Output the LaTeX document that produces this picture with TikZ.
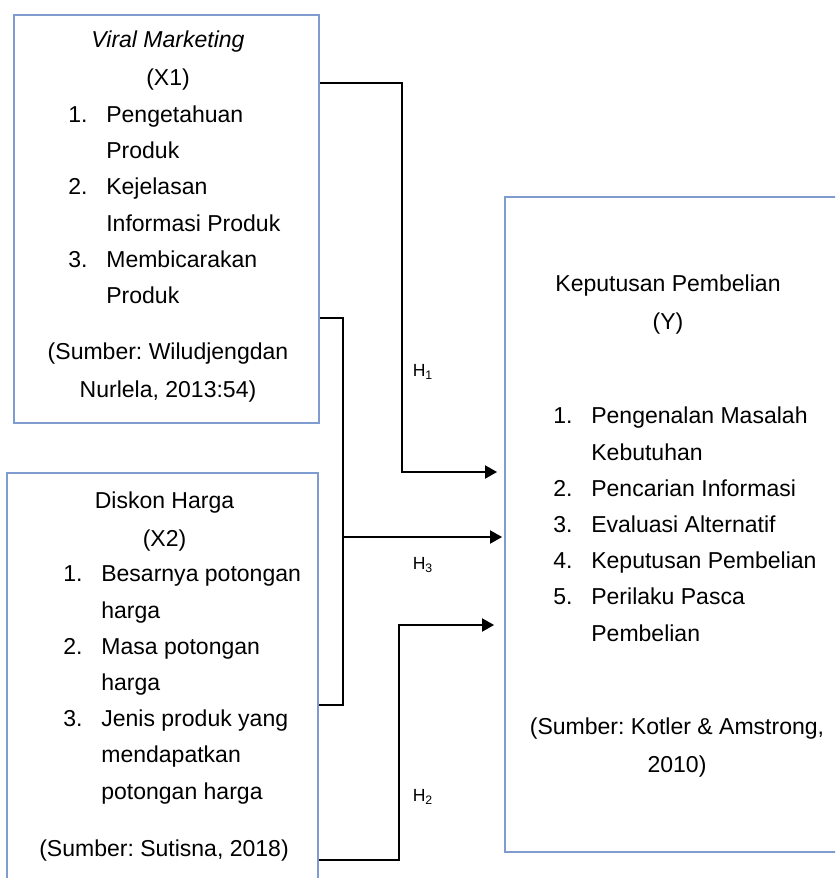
\documentclass[tikz,border=0pt]{standalone}
\usepackage{fontspec}
\setmainfont{Liberation Sans}
\usepackage{tikz}
\usetikzlibrary{arrows.meta, positioning, calc}
\definecolor{boxcol}{RGB}{126,156,208}
\frenchspacing

% list entry with hanging number
\newcommand{\itm}[2]{\makebox[0.76cm][l]{#1}#2}
\newcommand{\cnt}[1]{\hspace*{0.76cm}#1}

\begin{document}
\begin{tikzpicture}[
  x=0.02cm, y=-0.02cm,
  box/.style={draw=boxcol, line width=1.1pt, inner sep=0pt},
  ttl/.style={font=\fontsize{13.1}{21.6}\selectfont, inner sep=0pt,
              align=center, anchor=base},
  lst/.style={font=\fontsize{13.1}{20.6}\selectfont, inner sep=0pt,
              align=left, anchor=base west},
  hlab/.style={font=\fontsize{10}{12}\selectfont, inner sep=0pt},
  flow/.style={-{Triangle[length=0.24cm, width=0.26cm]}, line width=1.1pt},
  link/.style={line width=1.1pt}
]
  \clip (0,0) rectangle (835,878);
  \fill[white] (0,0) rectangle (835,878);

  % boxes
  \node[box, minimum width=6.1cm, minimum height=8.16cm] (x1) at (166.5,219) {};
  \node[box, minimum width=6.22cm, minimum height=8.34cm] (x2) at (162.5,681.5) {};
  \node[box, minimum width=6.8cm, minimum height=13.1cm] (y) at (675,524.5) {};

  % X1 (anchors sit on the last line)
  \node[ttl] (x1t) at (168,85.5) {\textit{Viral Marketing}\\(X1)};
  \node[lst] (x1l) at (68,303.5) {\itm{1.}{Pengetahuan}\\\cnt{Produk}\\
    \itm{2.}{Kejelasan}\\\cnt{Informasi Produk}\\
    \itm{3.}{Membicarakan}\\\cnt{Produk}};
  \node[ttl] (x1s) at (168,397.5) {(Sumber: Wiludjengdan\\Nurlela, 2013:54)};

  % X2
  \node[ttl] (x2t) at (164.5,546) {Diskon Harga\\(X2)};
  \node[lst] (x2l) at (63,799) {\itm{1.}{Besarnya potongan}\\\cnt{harga}\\
    \itm{2.}{Masa potongan}\\\cnt{harga}\\
    \itm{3.}{Jenis produk yang}\\\cnt{mendapatkan}\\\cnt{potongan harga}};
  \node[ttl] (x2s) at (164,856) {(Sumber: Sutisna, 2018)};

  % Y
  \node[ttl] (yt) at (668,329) {Keputusan Pembelian\\(Y)};
  \node[lst] (yl) at (553,641) {\itm{1.}{Pengenalan Masalah}\\\cnt{Kebutuhan}\\
    \itm{2.}{Pencarian Informasi}\\\itm{3.}{Evaluasi Alternatif}\\
    \itm{4.}{Keputusan Pembelian}\\\itm{5.}{Perilaku Pasca}\\\cnt{Pembelian}};
  \node[ttl] (ys) at (677,772) {(Sumber: Kotler \& Amstrong,\\2010)};

  % connectors
  \coordinate (h1a) at (402,83);
  \coordinate (h1b) at (402,472);
  \draw[flow, shorten >=0.14cm] (x1.east |- h1a) -- (h1a) -- (h1b) -- (y.west |- h1b);

  \coordinate (h3a) at (343,318);
  \coordinate (h3b) at (343,705);
  \coordinate (h3c) at (343,537);
  \draw[link] (x1.east |- h3a) -- (h3a) -- (h3b) -- (x2.east |- h3b);
  \draw[flow, shorten >=0.04cm] (h3c) -- (y.west |- h3c);

  \coordinate (h2a) at (399,860);
  \coordinate (h2b) at (399,625);
  \draw[flow, shorten >=0.2cm] (x2.east |- h2a) -- (h2a) -- (h2b) -- (y.west |- h2b);

  % hypothesis labels
  \node[hlab] (h1) at (423,372) {H\textsubscript{1}};
  \node[hlab] (h3) at (423,565) {H\textsubscript{3}};
  \node[hlab] (h2) at (423,797) {H\textsubscript{2}};
\end{tikzpicture}
\end{document}
